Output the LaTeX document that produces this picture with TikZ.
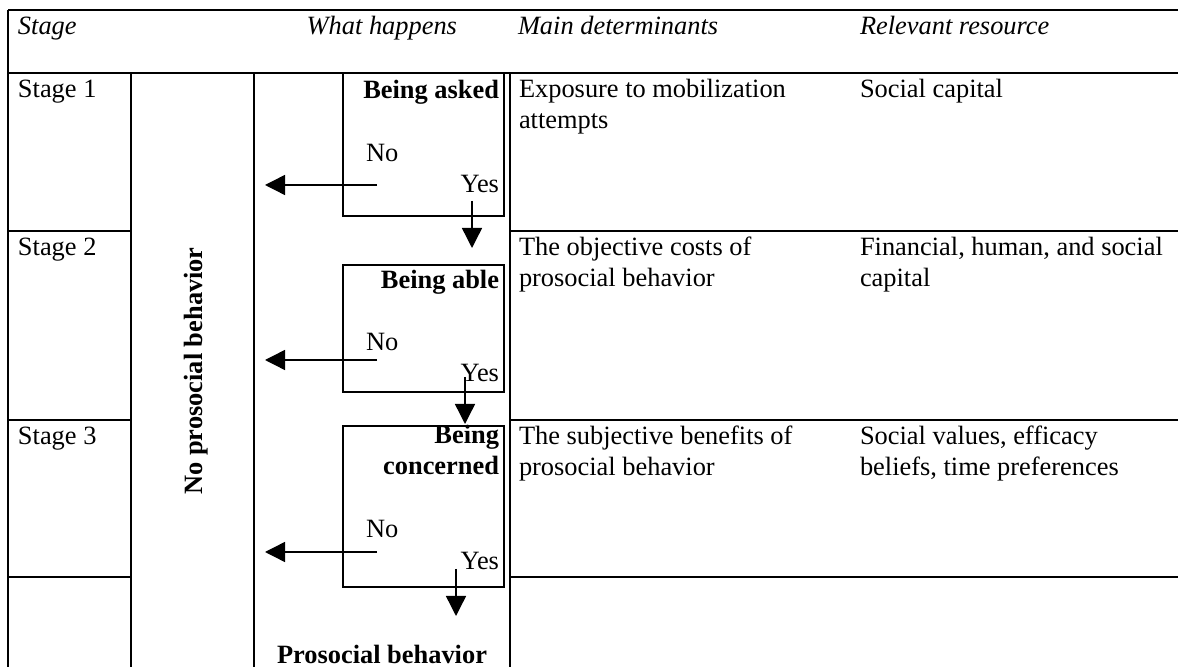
\documentclass[tikz,border=0pt]{standalone}
\usepackage{fontspec}
\setmainfont{Liberation Serif}
\usetikzlibrary{arrows.meta}
\begin{document}
\begin{tikzpicture}[x=0.5pt,y=-0.5pt,
  gridline/.style={line width=1pt},
  boxnode/.style={draw,line width=0.75pt,rectangle,inner sep=0pt,outer sep=0pt,minimum width=80.5pt},
  arr/.style={line width=0.7pt,-{Triangle[length=10pt,width=10pt]}},
  txt/.style={inner sep=0pt,outer sep=0pt,font=\fontsize{13.2}{15.5}\selectfont},
  hdr/.style={txt,font=\fontsize{13.2}{15.5}\selectfont\itshape},
  bld/.style={txt,font=\fontsize{13.2}{15.5}\selectfont\bfseries}]
\useasboundingbox (0,0) rectangle (1178,667);
% table grid
\draw[gridline] (8,10) -- (1178,10);
\draw[gridline] (8,73) -- (1178,73);
\draw[gridline] (8,10) -- (8,667);
\draw[gridline] (131,73) -- (131,667);
\draw[gridline] (254,73) -- (254,667);
\draw[gridline] (510,73) -- (510,667);
\foreach \yy in {231,420,577}{
  \draw[gridline] (8,\yy) -- (132,\yy);
  \draw[gridline] (510,\yy) -- (1178,\yy);
}
% headers
\node[hdr,anchor=base west] (hstage) at (18,35) {Stage};
\node[hdr,anchor=base east] (hwhat) at (457,35) {What happens};
\node[hdr,anchor=base west] (hmain) at (518,35) {Main determinants};
\node[hdr,anchor=base west] (hres) at (860,35) {Relevant resource};
% stage labels
\node[txt,anchor=base west] (s1) at (18,98) {Stage 1};
\node[txt,anchor=base west] (s2) at (18,256) {Stage 2};
\node[txt,anchor=base west] (s3) at (18,445) {Stage 3};
% determinants (anchor at baseline of last line)
\node[txt,anchor=base west,align=left] (d1) at (519,129) {Exposure to mobilization\\attempts};
\node[txt,anchor=base west,align=left] (d2) at (519,287) {The objective costs of\\prosocial behavior};
\node[txt,anchor=base west,align=left] (d3) at (519,476) {The subjective benefits of\\prosocial behavior};
% resources
\node[txt,anchor=base west] (r1) at (860,98) {Social capital};
\node[txt,anchor=base west,align=left] (r2) at (860,287) {Financial, human, and social\\capital};
\node[txt,anchor=base west,align=left] (r3) at (860,476) {Social values, efficacy\\beliefs, time preferences};
% no prosocial behavior
\node[bld,rotate=90,anchor=center] (noprosocial) at (196,371) {No prosocial behavior};
% decision boxes
\node[boxnode,minimum height=71.5pt] (box1) at (423.5,144.5) {};
\node[boxnode,minimum height=63.5pt] (box2) at (423.5,328.5) {};
\node[boxnode,minimum height=80.5pt] (box3) at (423.5,506.5) {};
\node[bld,anchor=base east] (t1) at (499,99) {Being asked};
\node[bld,anchor=base east] (t2) at (499,289) {Being able};
\node[bld,anchor=base east,align=right] (t3) at (499,475) {Being\\concerned};
\node[txt,anchor=base west] (no1) at (366,162) {No};
\node[txt,anchor=base west] (no2) at (366,351) {No};
\node[txt,anchor=base west] (no3) at (366,538) {No};
\node[txt,anchor=base east] (yes1) at (499,193) {Yes};
\node[txt,anchor=base east] (yes2) at (499,382) {Yes};
\node[txt,anchor=base east] (yes3) at (499,570) {Yes};
\node[bld,anchor=base] (pro) at (382,663) {Prosocial behavior};
% arrow coordinates
\coordinate (n1s) at (377,185); \coordinate (n1e) at (265,185);
\coordinate (n2s) at (377,360); \coordinate (n2e) at (265,360);
\coordinate (n3s) at (377,552); \coordinate (n3e) at (265,552);
\coordinate (y1s) at (472,201); \coordinate (y1e) at (472,248);
\coordinate (y2s) at (465,377); \coordinate (y2e) at (465,424);
\coordinate (y3s) at (456,569); \coordinate (y3e) at (456,616);
\draw[arr] (n1s) -- (n1e);
\draw[arr] (n2s) -- (n2e);
\draw[arr] (n3s) -- (n3e);
\draw[arr] (y1s) -- (y1e);
\draw[arr] (y2s) -- (y2e);
\draw[arr] (y3s) -- (y3e);
\end{tikzpicture}
\end{document}
